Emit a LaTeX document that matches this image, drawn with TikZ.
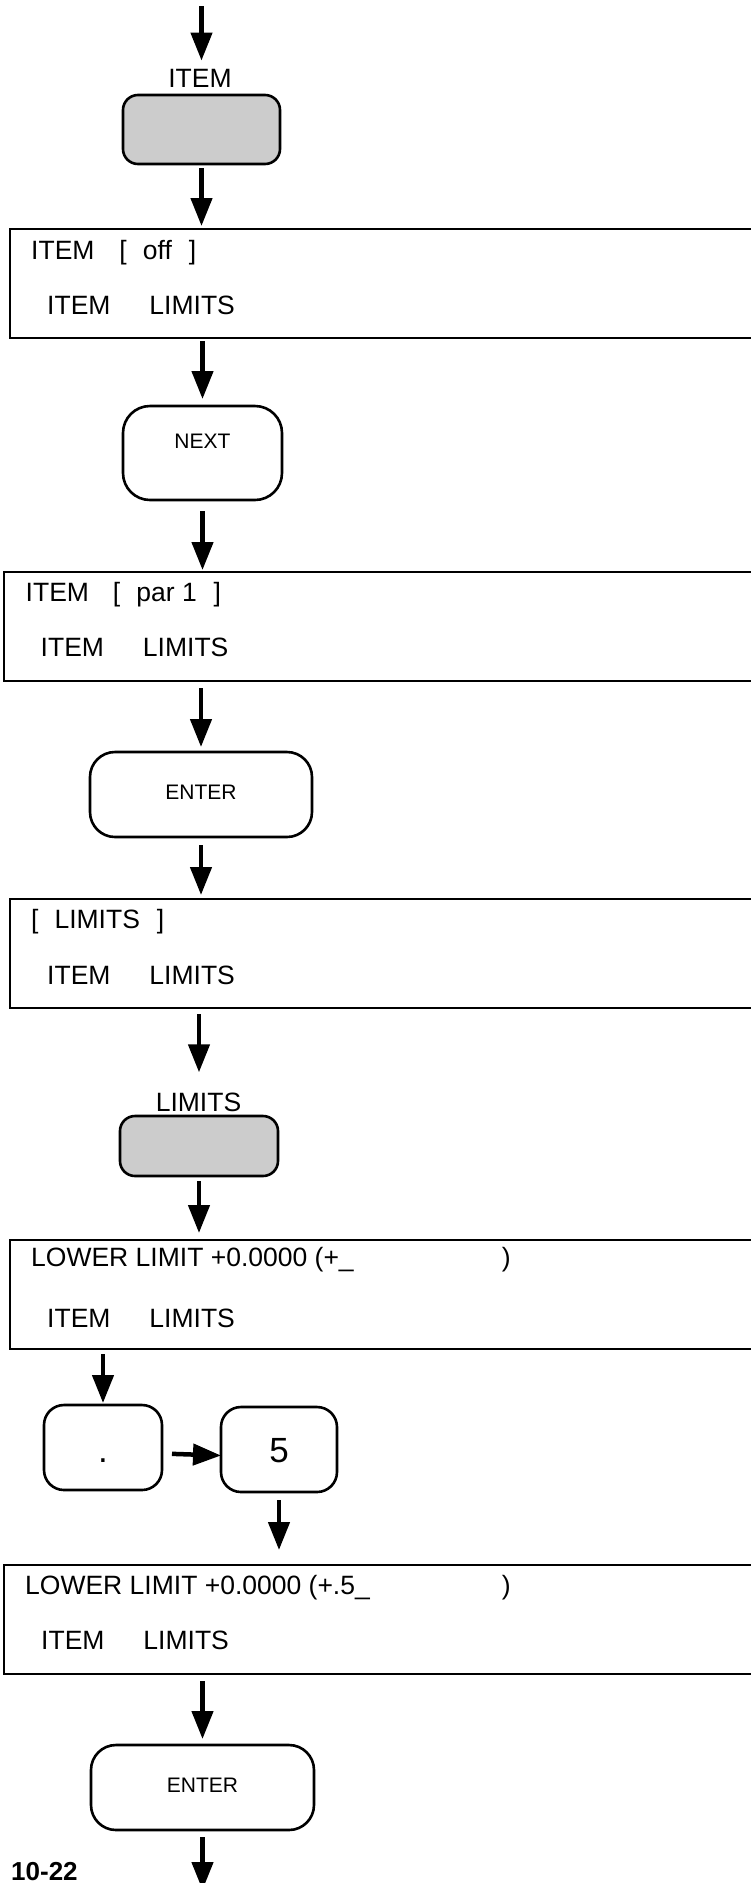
\documentclass[tikz,border=0pt]{standalone}
\usepackage{fontspec}
\setmainfont{Liberation Sans}
\usetikzlibrary{positioning,arrows.meta,calc}
\definecolor{keygray}{RGB}{204,204,204}
\tikzset{
  screen/.style={draw, line width=2.6pt, rectangle, anchor=north west,
    minimum width=900pt, minimum height=109pt, inner sep=0pt, outer sep=0pt},
  row/.style={anchor=base west, inner sep=0pt, font=\fontsize{26.5pt}{30pt}\selectfont},
  lbl/.style={anchor=base, inner sep=0pt, font=\fontsize{26.5pt}{30pt}\selectfont},
  keybox/.style={draw, line width=2.6pt, rounded corners=#1, anchor=north,
    inner sep=0pt, outer sep=0pt},
  softkey/.style={keybox=15pt, fill=keygray},
  keytext/.style={font=\fontsize{21pt}{24pt}\selectfont},
  numtext/.style={font=\fontsize{35pt}{40pt}\selectfont},
  flow/.style={line width=4.5pt, -{Triangle[length=28pt,width=21pt]},
    shorten <=5pt, shorten >=4pt}
}
\begin{document}
\begin{tikzpicture}[x=1pt, y=-1pt]
\useasboundingbox (0,0) rectangle (751,1883);
\clip (0,0) rectangle (751,1883);
% soft key ITEM
\coordinate (start) at (201.5,6);
\node[lbl] (itemlbl) at (200,87) {ITEM};
\node[softkey, minimum width=157pt, minimum height=69pt] (itemkey) at (201.5,95) {};
\draw[flow, shorten <=0pt, shorten >=8pt] (start) -- (start |- itemlbl.north);

% screen 1
\node[screen] (s1) at (10,229) {};
\node[row] at ($(s1.north west)+(21,30)$) {ITEM\hspace{25pt}[\hspace{16pt}off\hspace{17pt}]};
\node[row] at ($(s1.north west)+(37,85)$) {ITEM\hspace{39pt}LIMITS};
\draw[flow, shorten <=4pt, shorten >=3pt] (itemkey.south) -- (itemkey.south |- s1.north);

% NEXT
\node[keybox=27pt, keytext, minimum width=159pt, text height=42.5pt, text depth=51.5pt] (next) at (202.5,406) {NEXT};
\draw[flow, shorten <=3pt, shorten >=7pt] (next.north |- s1.south) -- (next.north);

% screen 2
\node[screen] (s2) at (4,572) {};
\node[row] at ($(s2.north west)+(21.5,29)$) {ITEM\hspace{24pt}[\hspace{16pt}par 1\hspace{17pt}]};
\node[row] at ($(s2.north west)+(36.5,84)$) {ITEM\hspace{39pt}LIMITS};
\draw[flow, shorten <=11pt, shorten >=2pt] (next.south) -- (next.south |- s2.north);

% ENTER
\node[keybox=25pt, keytext, minimum width=222pt, text height=47.5pt, text depth=37.5pt] (enter) at (201,752) {ENTER};
\draw[flow, shorten <=7pt, shorten >=5pt] (enter.north |- s2.south) -- (enter.north);

% screen 3
\node[screen] (s3) at (10,899) {};
\node[row] at ($(s3.north west)+(21,29)$) {[\hspace{16pt}LIMITS\hspace{17pt}]};
\node[row] at ($(s3.north west)+(37,85)$) {ITEM\hspace{39pt}LIMITS};
\draw[flow, shorten <=8pt, shorten >=4pt] (enter.south) -- (enter.south |- s3.north);

% soft key LIMITS
\node[lbl] (limitslbl) at (198.5,1111) {LIMITS};
\node[softkey, minimum width=158pt, minimum height=60pt] (limitskey) at (199,1116) {};
\draw[flow, shorten <=6pt, shorten >=20pt] (limitskey.north |- s3.south) -- (limitskey.north |- limitslbl.north);

% screen 4
\node[screen] (s4) at (10,1240) {};
\node[row] at ($(s4.north west)+(21,26)$) {LOWER LIMIT +0.0000 (+\_\hspace{148pt})};
\node[row] at ($(s4.north west)+(37,87)$) {ITEM\hspace{39pt}LIMITS};
\draw[flow, shorten <=5pt, shorten >=7pt] (limitskey.south) -- (limitskey.south |- s4.north);

% keys . and 5
\node[keybox=20pt, numtext, minimum width=118pt, text height=57.5pt, text depth=27.5pt] (dot) at (103,1405) {.};
\node[keybox=20pt, numtext, minimum width=116pt, text height=55.5pt, text depth=29.5pt] (five) at (279,1407) {5};
\draw[flow, shorten <=5pt, shorten >=2pt] (dot.north |- s4.south) -- (dot.north);
\draw[flow, shorten <=10pt, shorten >=0pt] ([yshift=-6pt]dot.east) -- ([yshift=-6pt]five.west);

% screen 5
\node[screen] (s5) at (4,1565) {};
\node[row] at ($(s5.north west)+(21,29)$) {LOWER LIMIT +0.0000 (+.5\_\hspace{132pt})};
\node[row] at ($(s5.north west)+(37,84)$) {ITEM\hspace{39pt}LIMITS};
\draw[flow, shorten <=8pt, shorten >=15pt] (five.south) -- (five.south |- s5.north);

% ENTER again
\node[keybox=25pt, keytext, minimum width=223pt, text height=47.5pt, text depth=37.5pt] (enter2) at (202.5,1745) {ENTER};
\draw[flow, shorten <=7pt, shorten >=6pt] (enter2.north |- s5.south) -- (enter2.north);
\coordinate (finish) at (202.5,1890);
\draw[flow, shorten <=7pt, shorten >=0pt] (enter2.south) -- (enter2.south |- finish);

% page number
\node[anchor=base west, inner sep=0pt, font=\bfseries\fontsize{26pt}{30pt}\selectfont] (pageno) at (11,1880) {10-22};
\end{tikzpicture}
\end{document}
